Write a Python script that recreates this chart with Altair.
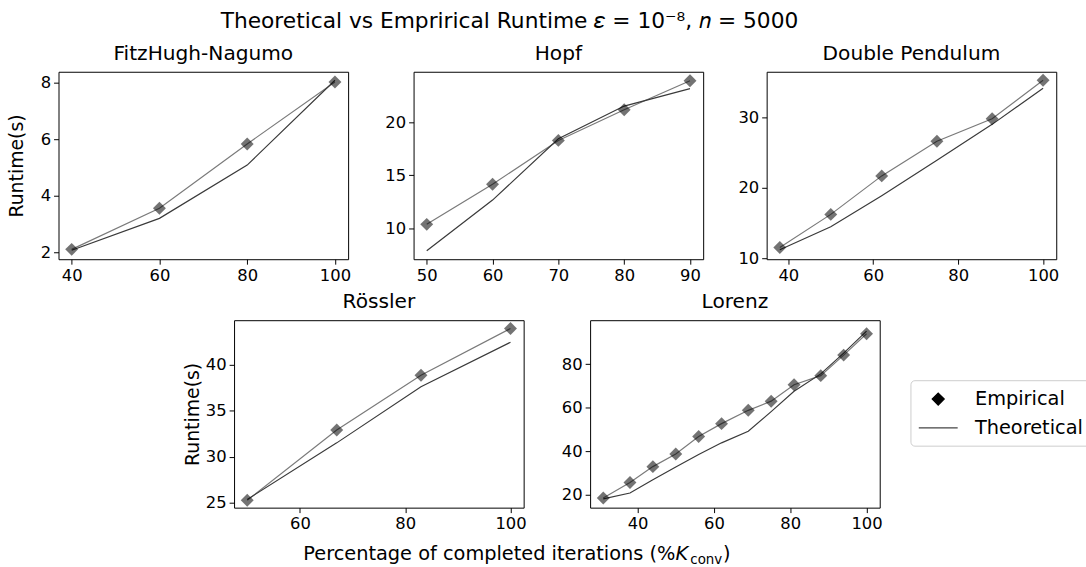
import altair as alt
import pandas as pd

FONT = "DejaVu Sans"

# ---- runtimes (seconds) per system: x = % of K_conv completed ----
fhn_x = [40, 60, 80, 100]
fhn_emp = [2.1, 3.56, 5.84, 8.04]
fhn_theo = [2.07, 3.2, 5.09, 8.1]

hopf_x = [50, 60, 70, 80, 90]
hopf_emp = [10.35, 14.15, 18.3, 21.2, 23.95]
hopf_theo = [7.85, 12.65, 18.45, 21.55, 23.2]

dp_x = [38, 50, 62, 75, 88, 100]
dp_emp = [11.55, 16.25, 21.7, 26.6, 29.8, 35.25]
dp_theo = [11.25, 14.5, 18.9, 23.9, 29.0, 34.1]

ros_x = [50, 67, 83, 100]
ros_emp = [25.25, 32.9, 38.85, 43.95]
ros_theo = [25.35, 31.5, 37.6, 42.45]

lor_x = [31, 38, 44, 50, 56, 62, 69, 75, 81, 88, 94, 100]
lor_emp = [18.6, 25.7, 33.0, 38.8, 46.8, 52.7, 58.8, 63.0, 70.5, 74.7, 84.1, 93.9]
lor_theo = [18.2, 20.9, 27.0, 32.8, 38.6, 43.9, 49.2, 58.2, 67.5, 75.5, 85.0, 95.1]

series_names = ["Empirical", "Theoretical"]

W, H = 292, 189
# legend glyphs as unit paths: a filled diamond and a horizontal line segment
DIAMOND = "M0,-0.6L0.6,0L0,0.6L-0.6,0Z"
STROKE = "M-1.96,0L1.96,0"


def panel(title, xs, emp, theo, xdom, ydom, xticks, yticks, ytitle=None):
    df = pd.DataFrame({"x": xs, "emp": emp, "theo": theo})
    xenc = alt.X("x:Q", scale=alt.Scale(domain=xdom, nice=False, zero=False),
                 axis=alt.Axis(values=xticks), title=None)

    def yenc(field):
        return alt.Y(f"{field}:Q", scale=alt.Scale(domain=ydom, nice=False, zero=False),
                     axis=alt.Axis(values=yticks), title=ytitle)

    base = alt.Chart(df)
    theo_line = base.mark_line(color="#3a3a3a", strokeWidth=1.2).encode(x=xenc, y=yenc("theo"))
    emp_line = base.mark_line(color="#7a7a7a", strokeWidth=1.2).encode(x=xenc, y=yenc("emp"))
    emp_pts = base.mark_point(shape="diamond", filled=True, size=170, color="black",
                              opacity=0.55).encode(x=xenc, y=yenc("emp"))
    return alt.layer(emp_line, theo_line, emp_pts).properties(
        width=W, height=H, title=title)


def blank(width, height, *layers):
    """An empty, frameless view that reserves width x height pixels."""
    box = alt.Chart(pd.DataFrame({"a": [0]})).mark_rect(opacity=0).encode(
        x=alt.value(0), x2=alt.value(width), y=alt.value(0), y2=alt.value(height))
    return alt.layer(box, *layers).properties(
        width=width, height=height, view=alt.ViewBackground(stroke="transparent"))


# legend entries (points sit outside their clipped domain; only the legend shows)
leg_df = pd.DataFrame({"series": series_names, "x": [0, 0], "y": [0, 0]})
leg_opts = dict(title=None, orient="none", legendX=859, legendY=311, symbolOpacity=1)
legend_layer = alt.Chart(leg_df).mark_point(clip=True, filled=True).encode(
    x=alt.X("x:Q", scale=alt.Scale(domain=[1, 2]), axis=None),
    y=alt.Y("y:Q", scale=alt.Scale(domain=[1, 2]), axis=None),
    shape=alt.Shape("series:N", scale=alt.Scale(domain=series_names, range=[DIAMOND, STROKE]),
                    legend=alt.Legend(**leg_opts)),
    fill=alt.Fill("series:N", scale=alt.Scale(domain=series_names, range=["black", "transparent"]),
                  legend=alt.Legend(**leg_opts)),
    stroke=alt.Stroke("series:N", scale=alt.Scale(domain=series_names, range=["black", "#444444"]),
                      legend=alt.Legend(**leg_opts)),
)

# shared x-axis label, written in pieces so K is italic and "conv" a subscript
lab_df = pd.DataFrame({"a": [0]})
XLAB = 19.5
xk, yb = 622, 19.5
lab_main = alt.Chart(lab_df).mark_text(font=FONT, fontSize=XLAB, align="right",
                                       baseline="alphabetic", color="black",
                                       text="Percentage of completed iterations (%").encode(
    x=alt.value(xk), y=alt.value(yb))
lab_k = alt.Chart(lab_df).mark_text(font=FONT, fontSize=XLAB, fontStyle="italic", align="left",
                                    baseline="alphabetic", color="black", text="K").encode(
    x=alt.value(xk), y=alt.value(yb))
lab_sub = alt.Chart(lab_df).mark_text(font=FONT, fontSize=13.5, align="left", baseline="alphabetic",
                                      color="black", text="conv").encode(
    x=alt.value(xk + 15), y=alt.value(yb + 3.5))
lab_close = alt.Chart(lab_df).mark_text(font=FONT, fontSize=XLAB, align="left",
                                        baseline="alphabetic", color="black", text=")").encode(
    x=alt.value(xk + 48), y=alt.value(yb))

p_fhn = panel("FitzHugh-Nagumo", fhn_x, fhn_emp, fhn_theo, [37, 103], [1.75, 8.4],
              [40, 60, 80, 100], [2, 4, 6, 8], ytitle="Runtime(s)")
p_hopf = panel("Hopf", hopf_x, hopf_emp, hopf_theo, [48, 92], [7.05, 24.8],
               [50, 60, 70, 80, 90], [10, 15, 20])
p_dp = panel("Double Pendulum", dp_x, dp_emp, dp_theo, [34.9, 103.1], [9.9, 36.45],
             [40, 60, 80, 100], [10, 20, 30])
p_ros = panel("Rössler", ros_x, ros_emp, ros_theo, [47.5, 102.5], [24.45, 44.85],
              [60, 80, 100], [25, 30, 35, 40], ytitle="Runtime(s)")
p_lor = panel("Lorenz", lor_x, lor_emp, lor_theo, [27.55, 103.45], [14.2, 100.1],
              [40, 60, 80, 100], [20, 40, 60, 80])

row1 = alt.hconcat(p_fhn, p_hopf, p_dp, spacing=33)
row2 = alt.hconcat(blank(90, H), p_ros, p_lor, spacing=34)
row3 = blank(700, 22, lab_main, lab_k, lab_sub, lab_close, legend_layer)

chart = alt.vconcat(row1, row2, row3, spacing=7.5).properties(
    title=alt.TitleParams("Theoretical vs Emprirical Runtime 𝜀 = 10⁻⁸, 𝑛 = 5000",
                          fontSize=21.9, font=FONT, fontWeight="normal", anchor="start",
                          dx=215, offset=10, color="black"),
    padding={"left": 7, "top": 8, "right": -6, "bottom": 0},
).configure_view(
    stroke="black", strokeWidth=1
).configure_axis(
    labelFont=FONT, labelFontSize=16.5, labelColor="black", tickColor="black", tickSize=5,
    tickWidth=1, domain=False, grid=False, titleFont=FONT, titleFontSize=19,
    titleFontWeight="normal", titleColor="black", labelPadding=3,
).configure_axisY(
    minExtent=28, maxExtent=28, titlePadding=4,
).configure_title(
    font=FONT, fontSize=20.3, fontWeight="normal", color="black", offset=8,
).configure_legend(
    labelFont=FONT, labelFontSize=19.5, labelColor="black", symbolSize=400,
    symbolStrokeWidth=1.3, symbolOffset=9, labelOffset=26, padding=8,
    strokeColor="#cccccc", cornerRadius=4, fillColor="white", rowPadding=8,
)

chart.save("out.html", embed_options={"renderer": "svg", "actions": False})
